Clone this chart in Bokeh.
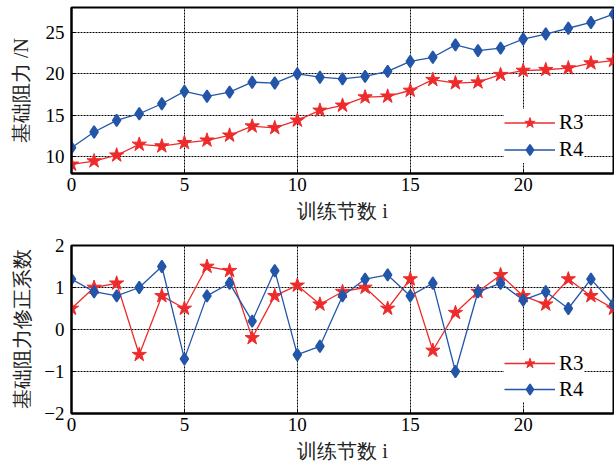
from bokeh.plotting import figure
from bokeh.layouts import column
from bokeh.models import FixedTicker, Range1d, Legend, LegendItem
from bokeh.embed import file_html
from bokeh.resources import INLINE

# ---- data ----
idx = list(range(25))
r3_force = [9.1, 9.5, 10.2, 11.5, 11.3, 11.7, 12.0, 12.6, 13.7, 13.5, 14.4, 15.6, 16.2,
            17.2, 17.3, 18.0, 19.3, 18.9, 19.0, 19.9, 20.4, 20.5, 20.7, 21.3, 21.6]
r4_force = [11.1, 13.0, 14.4, 15.2, 16.4, 17.9, 17.3, 17.8, 19.0, 18.9, 20.0, 19.6, 19.4,
            19.7, 20.3, 21.5, 22.0, 23.5, 22.8, 23.1, 24.2, 24.8, 25.5, 26.2, 27.2]
r3_coef = [0.5, 1.0, 1.1, -0.6, 0.8, 0.5, 1.5, 1.4, -0.2, 0.8, 1.05, 0.6, 0.9,
           1.0, 0.5, 1.2, -0.5, 0.4, 0.9, 1.3, 0.8, 0.6, 1.2, 0.8, 0.5]
r4_coef = [1.2, 0.9, 0.8, 1.0, 1.5, -0.7, 0.8, 1.1, 0.2, 1.4, -0.6, -0.4, 0.8,
           1.2, 1.3, 0.8, 1.1, -1.0, 0.9, 1.1, 0.7, 0.9, 0.5, 1.2, 0.6]
series_names = ["R3", "R4"]
x_ticks = [0, 5, 10, 15, 20]
force_ticks = [10, 15, 20, 25]
coef_ticks = [-2, -1, 0, 1, 2]
coef_tick_labels = {-2: "\u22122", -1: "\u22121", 0: "0", 1: "1", 2: "2"}
x_title = "训练节数 i"
force_title = "基础阻力 /N"
coef_title = "基础阻力修正系数"

RED = "#ee2b2b"
BLUE = "#2356a8"
SERIF = "Liberation Serif"


def make_fig(height, top_border, ymin, ymax, yticks, ytitle, s3, s4, bottom_border,
             legend_y, glyph_h, ystandoff, overrides=None):
    p = figure(width=614, height=height, output_backend="svg", toolbar_location=None,
               x_range=Range1d(0, 24), y_range=Range1d(ymin, ymax),
               min_border_left=71, min_border_right=1, min_border_top=top_border,
               min_border_bottom=bottom_border)
    p.background_fill_color = "white"
    p.border_fill_color = "white"
    p.outline_line_color = "black"
    p.outline_line_width = 2
    p.outline_line_alpha = 1

    for ax in (p.xaxis[0], p.yaxis[0]):
        ax.axis_line_width = 2
        ax.axis_line_color = "black"
        ax.major_tick_in = 4
        ax.major_tick_out = 0
        ax.minor_tick_line_color = None
        ax.major_tick_line_color = "black"
        ax.major_label_text_font = SERIF
        ax.major_label_text_font_size = "19px"
        ax.major_label_text_color = "black"
        ax.axis_label_text_font = SERIF
        ax.axis_label_text_font_size = "20px"
        ax.axis_label_text_font_style = "normal"
        ax.axis_label_text_color = "#222222"

    p.xaxis.ticker = FixedTicker(ticks=x_ticks)
    p.yaxis.ticker = FixedTicker(ticks=yticks)
    if overrides:
        p.yaxis.major_label_overrides = overrides
    p.xaxis.axis_label = x_title
    p.yaxis.axis_label = ytitle
    p.xaxis.major_label_standoff = 4
    p.xaxis.axis_label_standoff = 6
    p.yaxis.major_label_standoff = 7
    p.yaxis.axis_label_standoff = ystandoff

    for g in (p.xgrid[0], p.ygrid[0]):
        g.grid_line_color = "black"
        g.grid_line_dash = "2 1"
        g.grid_line_width = 1
        g.grid_line_alpha = 1
    p.xgrid.ticker = FixedTicker(ticks=x_ticks)
    p.ygrid.ticker = FixedTicker(ticks=yticks)

    l3 = p.line(idx, s3, line_color=RED, line_width=1.3)
    m3 = p.scatter(idx, s3, marker="star", size=15, fill_color=RED, line_color=RED)
    l4 = p.line(idx, s4, line_color=BLUE, line_width=1.3)
    m4 = p.scatter(idx, s4, marker="diamond", size=12, line_width=1.6,
                   fill_color=BLUE, line_color=BLUE)

    legend = Legend(items=[LegendItem(label=series_names[0], renderers=[l3, m3]),
                           LegendItem(label=series_names[1], renderers=[l4, m4])],
                    location=(433, legend_y))
    legend.margin = 0
    legend.padding = 4
    legend.spacing = 0
    legend.glyph_width = 51
    legend.glyph_height = glyph_h
    legend.label_standoff = 4
    legend.label_text_font = SERIF
    legend.label_text_font_size = "21px"
    legend.label_text_color = "black"
    legend.border_line_color = None
    legend.background_fill_color = "white"
    legend.background_fill_alpha = 1
    p.add_layout(legend, "center")
    return p


top = make_fig(232, 7, 8, 28, force_ticks, force_title, r3_force, r4_force, 59,
               10, 27, 11)
bottom = make_fig(236, 13, -2, 2, coef_ticks, coef_title, r3_coef, r4_coef, 55,
                  11, 26, 8, coef_tick_labels)

layout = column(top, bottom, spacing=0)
open("out.html", "w").write(file_html(layout, INLINE))
